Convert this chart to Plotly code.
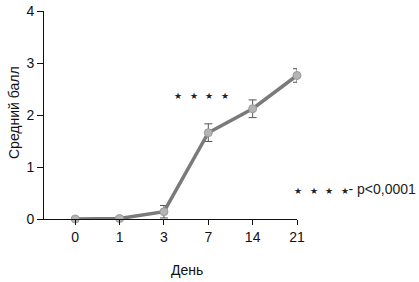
import plotly.graph_objects as go

days = ["0", "1", "3", "7", "14", "21"]
mean_score = [0.0, 0.01, 0.14, 1.66, 2.12, 2.76]
sem = [0.03, 0.03, 0.12, 0.17, 0.17, 0.13]
y_ticks = [0, 1, 2, 3, 4]

FONT = "Liberation Sans Narrow, Arial Narrow, Liberation Sans, sans-serif"

L, R, T, B = 44, 122, 11, 63
W, H = 419, 282
PW, PH = W - L - R, H - T - B

fig = go.Figure()
fig.add_trace(go.Scatter(
    x=list(range(len(days))), y=mean_score,
    mode="lines+markers",
    line=dict(color="#7a7a7a", width=3.5),
    marker=dict(color="#b4b4b4", size=8, line=dict(color="#9a9a9a", width=1)),
    error_y=dict(type="data", array=sem, color="#555555", thickness=1, width=4),
    cliponaxis=False,
    showlegend=False,
))

stars = "★&nbsp;&nbsp;&nbsp;★&nbsp;&nbsp;&nbsp;★&nbsp;&nbsp;&nbsp;★"
fig.add_annotation(x=2.85, y=2.36, xref="x", yref="y", text=stars,
                   showarrow=False, font=dict(size=9, color="#222", family=FONT))
fig.add_annotation(x=(418 - L) / PW, y=0.57, xref="paper", yref="y",
                   xanchor="right", yanchor="middle",
                   text=stars + "<span style='font-size:14px'>- p&lt;0,0001</span>",
                   showarrow=False, font=dict(size=9, color="#222", family=FONT))
# axis titles
fig.add_annotation(x=(187 - L) / PW, y=-(270 - 219) / PH, xref="paper", yref="paper",
                   xanchor="center", yanchor="middle",
                   text="День", showarrow=False, font=dict(size=14, family=FONT, color="#111"))
fig.add_annotation(x=-(L - 14) / PW, y=(219 - 113) / PH, xref="paper", yref="paper",
                   xanchor="center", yanchor="middle",
                   text="Средний балл", textangle=-90, showarrow=False,
                   font=dict(size=14, family=FONT, color="#111"))

fig.update_layout(
    width=W, height=H,
    margin=dict(l=L, r=R, t=T, b=B, autoexpand=False),
    paper_bgcolor="white", plot_bgcolor="white",
    font=dict(family=FONT, size=14, color="#111"),
    xaxis=dict(
        range=[-0.705, 5.0], tickmode="array",
        tickvals=list(range(len(days))), ticktext=days, automargin=False,
        showgrid=False, zeroline=False, showline=True, linecolor="#111", linewidth=1,
        ticks="outside", ticklen=5, tickcolor="#111",
    ),
    yaxis=dict(
        range=[0, 4], tickvals=y_ticks, automargin=False,
        showgrid=False, zeroline=False, showline=True, linecolor="#111", linewidth=1,
        ticks="outside", ticklen=6, tickcolor="#111",
    ),
)

fig.write_html("out.html", config={"displayModeBar": False},
               post_script="document.body.style.margin='0';")
